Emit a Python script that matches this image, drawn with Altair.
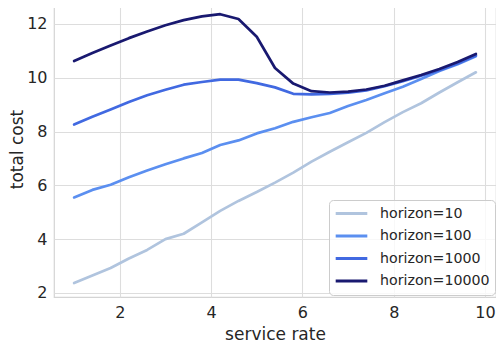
import altair as alt
import pandas as pd

service_rate = [1.0, 1.4, 1.8, 2.2, 2.6, 3.0, 3.4, 3.8, 4.2, 4.6, 5.0, 5.4,
                5.8, 6.2, 6.6, 7.0, 7.4, 7.8, 8.2, 8.6, 9.0, 9.4, 9.8]

cost_h10 = [2.37, 2.65, 2.93, 3.28, 3.60, 4.00, 4.20, 4.62, 5.05, 5.42, 5.75, 6.10,
            6.47, 6.88, 7.25, 7.60, 7.95, 8.35, 8.72, 9.05, 9.45, 9.83, 10.20]
cost_h100 = [5.55, 5.83, 6.02, 6.30, 6.55, 6.78, 7.00, 7.20, 7.50, 7.67, 7.93, 8.12,
             8.36, 8.53, 8.69, 8.95, 9.17, 9.42, 9.66, 9.95, 10.25, 10.50, 10.80]
cost_h1000 = [8.26, 8.55, 8.82, 9.10, 9.35, 9.55, 9.74, 9.84, 9.93, 9.93, 9.80, 9.64,
              9.40, 9.38, 9.40, 9.44, 9.53, 9.68, 9.87, 10.07, 10.28, 10.53, 10.82]
cost_h10000 = [10.62, 10.92, 11.20, 11.47, 11.72, 11.95, 12.14, 12.28, 12.36, 12.18, 11.52, 10.36,
               9.78, 9.50, 9.45, 9.48, 9.56, 9.70, 9.90, 10.10, 10.32, 10.58, 10.88]

series_names = ["horizon=10", "horizon=100", "horizon=1000", "horizon=10000"]
series_values = [cost_h10, cost_h100, cost_h1000, cost_h10000]
series_colors = ["#b0c4de", "#5b8ff0", "#4169e1", "#191970"]

rows = []
for name, vals in zip(series_names, series_values):
    for x, y in zip(service_rate, vals):
        rows.append({"service rate": x, "total cost": y, "series": name})
df = pd.DataFrame(rows)

font = "DejaVu Sans"

chart = alt.Chart(df).mark_line(strokeWidth=2.7, strokeJoin="round", strokeCap="round").encode(
    x=alt.X("service rate:Q",
            scale=alt.Scale(domain=[0.56, 10.24], nice=False, zero=False),
            axis=alt.Axis(values=[2, 4, 6, 8, 10], title="service rate")),
    y=alt.Y("total cost:Q",
            scale=alt.Scale(domain=[1.85, 12.85], nice=False, zero=False),
            axis=alt.Axis(values=[2, 4, 6, 8, 10, 12], title="total cost",
                          titleX=-28, titleY=148, titleAngle=270,
                          titleAlign="center", titleBaseline="bottom")),
    color=alt.Color("series:N",
                    scale=alt.Scale(domain=series_names, range=series_colors),
                    sort=series_names,
                    legend=alt.Legend(title=None, orient="none", legendX=275, legendY=199)),
    order=alt.Order("service rate:Q"),
).properties(
    width=442,
    height=296,
    autosize=alt.AutoSizeParams(type="none"),
    padding={"left": 46, "top": -7, "right": 0, "bottom": 47},
).configure(
    font=font,
    background="white",
).configure_view(
    stroke="#d4d4d4",
    strokeWidth=1.2,
).configure_axis(
    grid=True,
    gridColor="#dddddd",
    gridWidth=1.1,
    domain=False,
    ticks=False,
    labelFont=font,
    labelFontSize=16,
    labelColor="#262626",
    labelPadding=7,
    titleFont=font,
    titleFontSize=17,
    titleFontWeight="normal",
    titleColor="#262626",
).configure_axisX(
    titlePadding=6,
).configure_legend(
    labelFont=font,
    labelFontSize=14.2,
    labelColor="#262626",
    labelOffset=11,
    symbolType="stroke",
    symbolSize=1000,
    symbolStrokeWidth=3,
    clipHeight=17,
    rowPadding=5.5,
    padding=5,
    fillColor="rgba(255,255,255,0.8)",
    strokeColor="#cccccc",
    cornerRadius=4,
)

chart.save("out.html", embed_options={"renderer": "svg", "actions": False})
